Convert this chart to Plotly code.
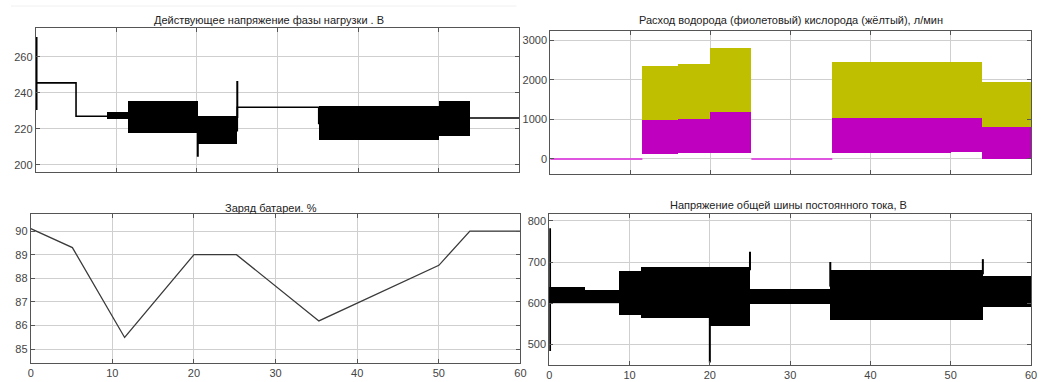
import plotly.graph_objects as go

# ---------------- data ----------------
TICKS_T = [0, 10, 20, 30, 40, 50, 60]

# Top-left: RMS load phase voltage, V
tl_step_t = [0, 5.0, 8.9, 11.4, 20.1, 25.0, 35.1, 50.0, 53.8, 60]
tl_step_v = [245.5, 227.0, 227.0, 226.5, 219.0, 232.0, 223.0, 226.0, 226.0, 226.0]
tl_band_t0 = [8.9, 11.4, 20.1, 35.1, 50.0]
tl_band_t1 = [11.4, 20.1, 25.0, 50.0, 53.8]
tl_band_lo = [225.3, 217.5, 211.3, 213.8, 216.0]
tl_band_hi = [229.3, 235.7, 227.3, 232.4, 235.6]
tl_spike_t = [0.1, 20.1, 25.0]
tl_spike_lo = [230.5, 204.5, 226.0]
tl_spike_hi = [271.0, 220.0, 246.5]
tl_yticks = [200, 220, 240, 260]

# Top-right: hydrogen (magenta) and oxygen (yellow) flow, l/min
tr_zero_t = [0, 11.5, None, 25.1, 35.2]
tr_zero_v = [0, 0, None, 0, 0]
tr_seg_t0 = [11.5, 16.0, 20.0, 35.2, 50.0, 53.9]
tr_seg_t1 = [16.0, 20.0, 25.1, 50.0, 53.9, 60.0]
tr_o2_hi = [2350, 2385, 2805, 2460, 2460, 1950]
tr_h2_hi = [980, 1005, 1180, 1025, 1035, 815]
tr_h2_lo = [125, 145, 150, 150, 165, 0]
tr_yticks = [0, 1000, 2000, 3000]

# Bottom-left: battery state of charge, %
bl_t = [0, 5.1, 11.5, 20.0, 25.2, 35.3, 50.0, 53.8, 60]
bl_v = [90.1, 89.3, 85.5, 89.0, 89.0, 86.2, 88.55, 90.0, 90.0]
bl_yticks = [85, 86, 87, 88, 89, 90]

# Bottom-right: DC bus voltage, V
br_band_t0 = [0, 4.5, 8.7, 11.4, 20.0, 25.0, 35.0, 54.0]
br_band_t1 = [4.5, 8.7, 11.4, 20.0, 25.0, 35.0, 54.0, 60.0]
br_band_lo = [600, 601, 570, 564, 543, 598, 558, 591]
br_band_hi = [638, 632, 677, 687, 688, 634, 681, 665]
br_spike_t = [0.1, 20.0, 25.0, 35.0, 54.0]
br_spike_lo = [483, 455, 680, 640, 670]
br_spike_hi = [782, 565, 725, 700, 707]
br_yticks = [500, 600, 700, 800]

titles = [
    "Действующее напряжение фазы нагрузки . В",
    "Расход водорода (фиолетовый) кислорода (жёлтый), л/мин",
    "Заряд батареи. %",
    "Напряжение общей шины постоянного тока, В",
]

# ---------------- helpers ----------------
W, H = 1041, 382


def px_x(a, b):
    return [a / W, b / W]


def px_y(top, bottom):
    return [1 - bottom / H, 1 - top / H]


def band_bar(t0, t1, lo, hi, color, xa, ya):
    return go.Bar(
        x=[(a + b) / 2 for a, b in zip(t0, t1)],
        width=[b - a for a, b in zip(t0, t1)],
        base=lo,
        y=[h - l for l, h in zip(lo, hi)],
        marker=dict(color=color, line=dict(width=0)),
        xaxis=xa, yaxis=ya, showlegend=False, hoverinfo="skip",
    )


def spikes(ts, lo, hi, xa, ya, color="black", width=2):
    xs, ys = [], []
    for t, l, h in zip(ts, lo, hi):
        xs += [t, t, None]
        ys += [l, h, None]
    return go.Scatter(x=xs, y=ys, mode="lines", line=dict(color=color, width=width),
                      xaxis=xa, yaxis=ya, showlegend=False, hoverinfo="skip")


fig = go.Figure()

# Top-left
fig.add_trace(go.Scatter(x=tl_step_t, y=tl_step_v, mode="lines", line_shape="hv",
                         line=dict(color="black", width=1.6), xaxis="x", yaxis="y", showlegend=False))
fig.add_trace(band_bar(tl_band_t0, tl_band_t1, tl_band_lo, tl_band_hi, "black", "x", "y"))
fig.add_trace(spikes(tl_spike_t, tl_spike_lo, tl_spike_hi, "x", "y"))

# Top-right
fig.add_trace(band_bar(tr_seg_t0, tr_seg_t1, tr_h2_lo, tr_o2_hi, "#bfbf00", "x2", "y2"))
fig.add_trace(band_bar(tr_seg_t0, tr_seg_t1, tr_h2_lo, tr_h2_hi, "#bf00bf", "x2", "y2"))
fig.add_trace(go.Scatter(x=tr_zero_t, y=tr_zero_v, mode="lines", line=dict(color="#e055e0", width=2),
                         xaxis="x2", yaxis="y2", showlegend=False))

# Bottom-left
fig.add_trace(go.Scatter(x=bl_t, y=bl_v, mode="lines", line=dict(color="#3a3a3a", width=1.3),
                         xaxis="x3", yaxis="y3", showlegend=False))

# Bottom-right
fig.add_trace(band_bar(br_band_t0, br_band_t1, br_band_lo, br_band_hi, "black", "x4", "y4"))
fig.add_trace(spikes(br_spike_t, br_spike_lo, br_spike_hi, "x4", "y4"))

FONT = "Liberation Sans, Arial, sans-serif"
axis_common = dict(
    showgrid=True, gridcolor="#cfcfcf", gridwidth=1,
    ticks="inside", ticklen=4, tickcolor="#555",
    showline=True, linecolor="#555", linewidth=1, mirror="ticks",
    zeroline=False, tickfont=dict(family=FONT, size=11, color="#444"),
    fixedrange=True,
)

layout = dict(
    width=W, height=H, margin=dict(l=0, r=0, t=0, b=0),
    paper_bgcolor="white", plot_bgcolor="white", barmode="overlay", bargap=0,
    showlegend=False,
)
# Top-left
layout["xaxis"] = dict(axis_common, domain=px_x(33, 521), range=[0, 60], tickvals=TICKS_T,
                       showticklabels=False, anchor="y")
layout["yaxis"] = dict(axis_common, domain=px_y(28, 172), range=[196, 276], tickvals=tl_yticks, anchor="x")
# Top-right
layout["xaxis2"] = dict(axis_common, domain=px_x(552, 1037), range=[0, 60], tickvals=TICKS_T,
                        showticklabels=False, anchor="y2")
layout["yaxis2"] = dict(axis_common, domain=px_y(31, 174), range=[-380, 3230], tickvals=tr_yticks, anchor="x2")
# Bottom-left
layout["xaxis3"] = dict(axis_common, domain=px_x(28, 522), range=[0, 60], tickvals=TICKS_T,
                        anchor="y3")
layout["yaxis3"] = dict(axis_common, domain=px_y(214, 363), range=[84.42, 90.72], tickvals=bl_yticks, anchor="x3")
# Bottom-right
layout["xaxis4"] = dict(axis_common, domain=px_x(551, 1037), range=[0, 60], tickvals=TICKS_T,
                        anchor="y4")
layout["yaxis4"] = dict(axis_common, domain=px_y(214, 365), range=[449, 817], tickvals=br_yticks, anchor="x4")

title_pos = [(268, 20), (795, 20), (270, 208), (792, 205)]
layout["annotations"] = [
    dict(text=t, x=px / W, y=1 - py / H, xref="paper", yref="paper", showarrow=False,
         xanchor="center", yanchor="middle", font=dict(family=FONT, size=11, color="#222"))
    for t, (px, py) in zip(titles, title_pos)
]
layout["shapes"] = [
    dict(type="line", xref="paper", yref="paper", x0=8 / W, x1=518 / W, y0=1 - 6 / H, y1=1 - 6 / H,
         line=dict(color="#f0f0f0", width=1))
]

fig.update_layout(**layout)
fig.write_html(
    "out.html",
    config={"displayModeBar": False, "staticPlot": True},
    post_script="document.body.style.margin='0';document.body.style.padding='0';"
                "document.body.style.overflow='hidden';",
)
